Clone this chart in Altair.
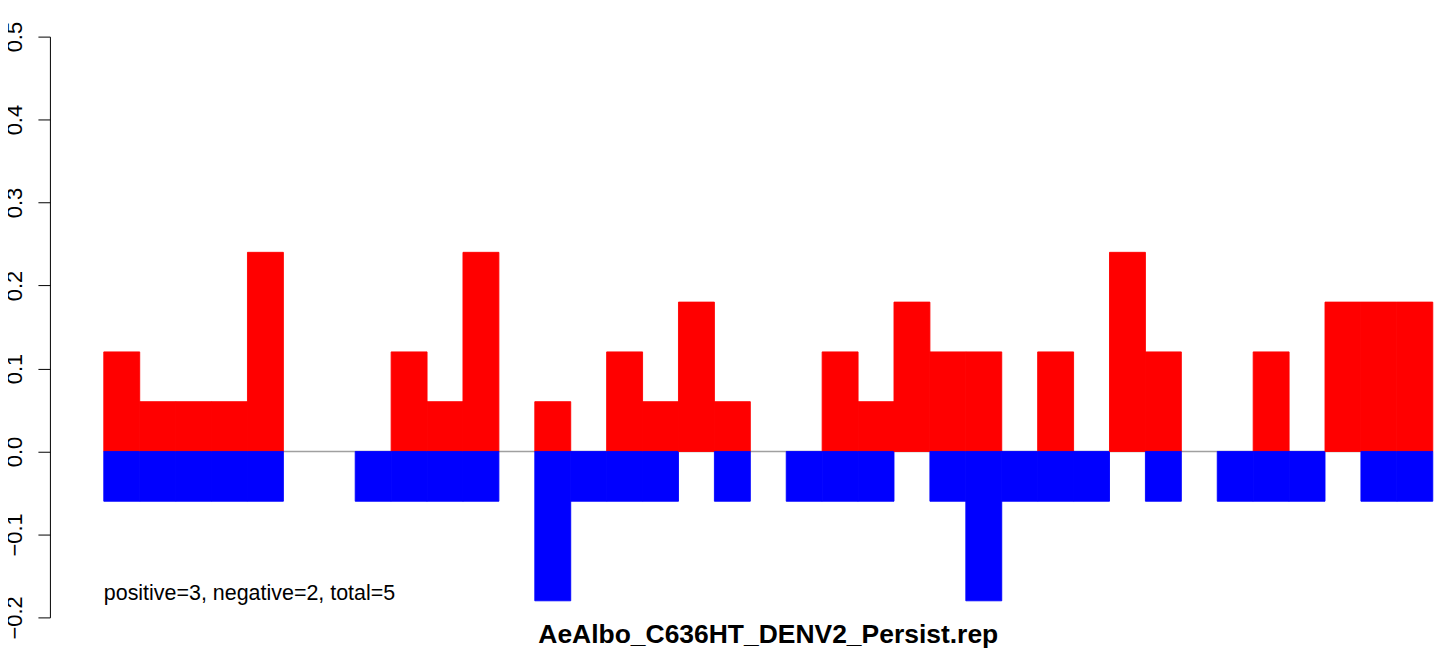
import altair as alt
import pandas as pd

positive = [0.12, 0.06, 0.06, 0.06, 0.24, 0, 0, 0, 0.12, 0.06, 0.24, 0, 0.06, 0, 0.12,
            0.06, 0.18, 0.06, 0, 0, 0.12, 0.06, 0.18, 0.12, 0.12, 0, 0.12, 0, 0.24, 0.12,
            0, 0, 0.12, 0, 0.18, 0.18, 0.18]
negative = [-0.06, -0.06, -0.06, -0.06, -0.06, 0, 0, -0.06, -0.06, -0.06, -0.06, 0, -0.18,
            -0.06, -0.06, -0.06, 0, -0.06, 0, -0.06, -0.06, -0.06, 0, -0.06, -0.18, -0.06,
            -0.06, -0.06, 0, -0.06, 0, -0.06, -0.06, -0.06, 0, -0.06, -0.06]
y_ticks = [-0.2, -0.1, 0.0, 0.1, 0.2, 0.3, 0.4, 0.5]
title_text = "AeAlbo_C636HT_DENV2_Persist.rep"
note_text = "positive=3, negative=2, total=5"

rows = []
for i, (p, n) in enumerate(zip(positive, negative)):
    if p != 0:
        rows.append({"x": i, "x2": i + 1, "v": p, "sign": "pos"})
    if n != 0:
        rows.append({"x": i, "x2": i + 1, "v": n, "sign": "neg"})
df = pd.DataFrame(rows)
nbars = len(positive)

FONT = "Liberation Sans"
xscale = alt.Scale(domain=[-1.5, 37.09], nice=False, zero=False)
yscale = alt.Scale(domain=[-0.2, 0.5], nice=False, zero=False)

yaxis = alt.Axis(values=y_ticks, format=".1f", title=None, grid=False,
                 domainColor="black", domainWidth=1, tickColor="black",
                 tickSize=12, tickWidth=1, labelAngle=270,
                 labelAlign="center", labelBaseline="alphabetic",
                 labelPadding=16, labelFontSize=22, labelFont=FONT,
                 labelColor="black", labelFlush=False, labelOverlap=False)

colscale = alt.Scale(domain=["pos", "neg"], range=["#ff0000", "#0000ff"])

baseline = alt.Chart(pd.DataFrame({"a": [0], "b": [nbars], "y": [0]})).mark_rule(
    color="#a0a0a0", strokeWidth=1.5
).encode(
    x=alt.X("a:Q", scale=xscale, axis=None),
    x2="b:Q",
    y=alt.Y("y:Q", scale=yscale, axis=yaxis),
)

bars = alt.Chart(df).mark_rect(strokeWidth=0.9).encode(
    x=alt.X("x:Q", scale=xscale, axis=None),
    x2="x2:Q",
    y=alt.Y("v:Q", scale=yscale, axis=yaxis),
    y2=alt.datum(0),
    color=alt.Color("sign:N", scale=colscale, legend=None),
    stroke=alt.Stroke("sign:N", scale=colscale, legend=None),
)

note = alt.Chart(pd.DataFrame({"t": [note_text], "xx": [0], "yy": [-0.172]})).mark_text(
    align="left", baseline="middle", fontSize=21.5, font=FONT, color="black"
).encode(
    x=alt.X("xx:Q", scale=xscale, axis=None),
    y=alt.Y("yy:Q", scale=yscale, axis=yaxis),
    text="t:N",
)

title = alt.Chart(pd.DataFrame({"t": [title_text], "xx": [nbars / 2], "yy": [-0.2212]})).mark_text(
    align="center", baseline="middle", fontSize=26.5, fontWeight="bold", font=FONT, color="black"
).encode(
    x=alt.X("xx:Q", scale=xscale, axis=None),
    y=alt.Y("yy:Q", scale=yscale, axis=yaxis),
    text="t:N",
)

chart = alt.layer(baseline, bars, note, title).properties(
    width=1389, height=582,
    padding={"left": 42, "top": 28, "right": 0, "bottom": 32},
    autosize=alt.AutoSizeParams(type="none"),
).configure_view(stroke=None)

chart.save("out.html", embed_options={"renderer": "svg", "actions": False})
